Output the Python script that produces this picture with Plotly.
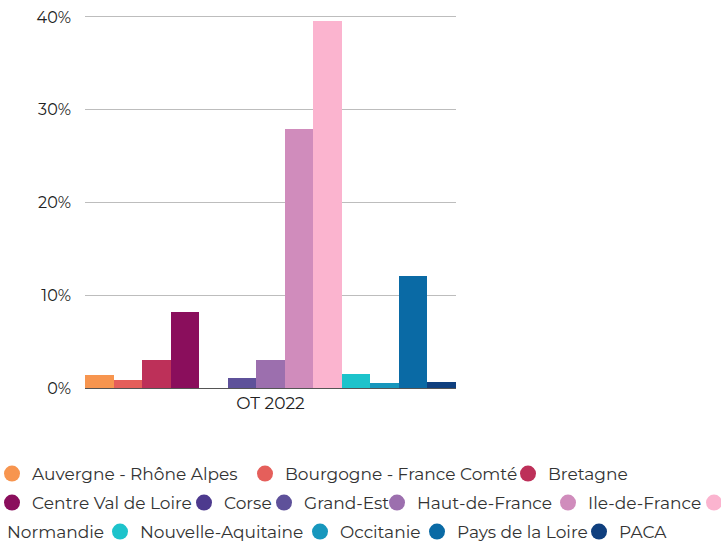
import plotly.graph_objects as go

categories = ["OT 2022"]
regions = ["Auvergne - Rhône Alpes", "Bourgogne - France Comté", "Bretagne",
           "Centre Val de Loire", "Corse", "Grand-Est", "Haut-de-France",
           "Ile-de-France", "Normandie", "Nouvelle-Aquitaine", "Occitanie",
           "Pays de la Loire", "PACA"]
values = [1.4, 0.8, 3.0, 8.2, 0.0, 1.05, 3.0, 27.9, 39.5, 1.5, 0.55, 12.0, 0.65]
colors = ["#f7954f", "#e55f5b", "#bd3059", "#8a0e5c", "#4d3a8e", "#5e519a",
          "#9c6fae", "#d08cbc", "#fbb4cf", "#1dc3cb", "#1797bd", "#0a6aa5", "#0f3f7e"]
tick_vals = [0, 10, 20, 30, 40]
tick_text = ["0%", "10%", "20%", "30%", "40%"]

# legend layout (how the reference wraps its legend): (region, show marker, show text, text x, row y)
legend_layout = [
    ("Auvergne - Rhône Alpes", True, True, 32, 474),
    ("Bourgogne - France Comté", True, True, 285, 474),
    ("Bretagne", True, True, 548, 474),
    ("Centre Val de Loire", True, True, 32, 503),
    ("Corse", True, True, 224, 503),
    ("Grand-Est", True, True, 304, 503),
    ("Haut-de-France", True, True, 417, 503),
    ("Ile-de-France", True, True, 588, 503),
    ("Normandie", True, False, 734, 503),
    ("Normandie", False, True, 7, 532),
    ("Nouvelle-Aquitaine", True, True, 140, 532),
    ("Occitanie", True, True, 340, 532),
    ("Pays de la Loire", True, True, 457, 532),
    ("PACA", True, True, 619, 532),
]

FONT = "Montserrat, Lato, 'Noto Sans', sans-serif"
W, H = 721, 542
TEXT_OFFSET = 40  # plotly legend: text starts 40px after entry origin (itemwidth 30)

fig = go.Figure()
for name, v, c in zip(regions, values, colors):
    fig.add_trace(go.Bar(x=categories, y=[v], name=name, marker_color=c,
                         marker_line_width=0, showlegend=False))

legends = {}
for i, (name, show_marker, show_text, tx, ry) in enumerate(legend_layout):
    lid = "legend" if i == 0 else f"legend{i + 1}"
    c = colors[regions.index(name)] if show_marker else "rgba(0,0,0,0)"
    fig.add_trace(go.Scatter(x=[None], y=[None], mode="markers",
                             name=name if show_text else "",
                             legend=lid, legendgroup=name,
                             marker=dict(symbol="circle", size=16, color=c)))
    legends[lid] = dict(orientation="h", xanchor="left", yanchor="middle",
                        x=(tx - TEXT_OFFSET) / W, y=1 - ry / H,
                        font=dict(size=17, color="#333333", family=FONT),
                        itemwidth=30, bgcolor="rgba(0,0,0,0)", borderwidth=0)

Y_TOP = 40.3  # small headroom so the 40% grid line is drawn
px_per_unit = (388 - 17) / 40
fig.update_layout(
    width=W, height=H,
    margin=dict(l=0, r=0, t=0, b=0, autoexpand=False, pad=0),
    paper_bgcolor="white", plot_bgcolor="white",
    barmode="group", bargap=0, bargroupgap=0,
    font=dict(family=FONT, size=16, color="#333333"),
    xaxis=dict(domain=[85 / W, 456 / W], range=[-0.5, 0.5],
               showgrid=False, showline=True, linecolor="#555555", linewidth=1,
               ticks="", tickfont=dict(size=17, color="#222222")),
    yaxis=dict(domain=[1 - 388 / H, 1 - (388 - Y_TOP * px_per_unit) / H],
               range=[0, Y_TOP],
               tickvals=tick_vals, ticktext=tick_text,
               showgrid=True, gridcolor="#bdbdbd", gridwidth=1,
               zeroline=False, showline=False, ticks="",
               ticklabelstandoff=13, ticklabeloverflow="allow",
               tickfont=dict(size=16, color="#222222")),
    **legends,
)
fig.write_html("out.html", config={"displayModeBar": False},
               post_script="document.body.style.margin='0';")
